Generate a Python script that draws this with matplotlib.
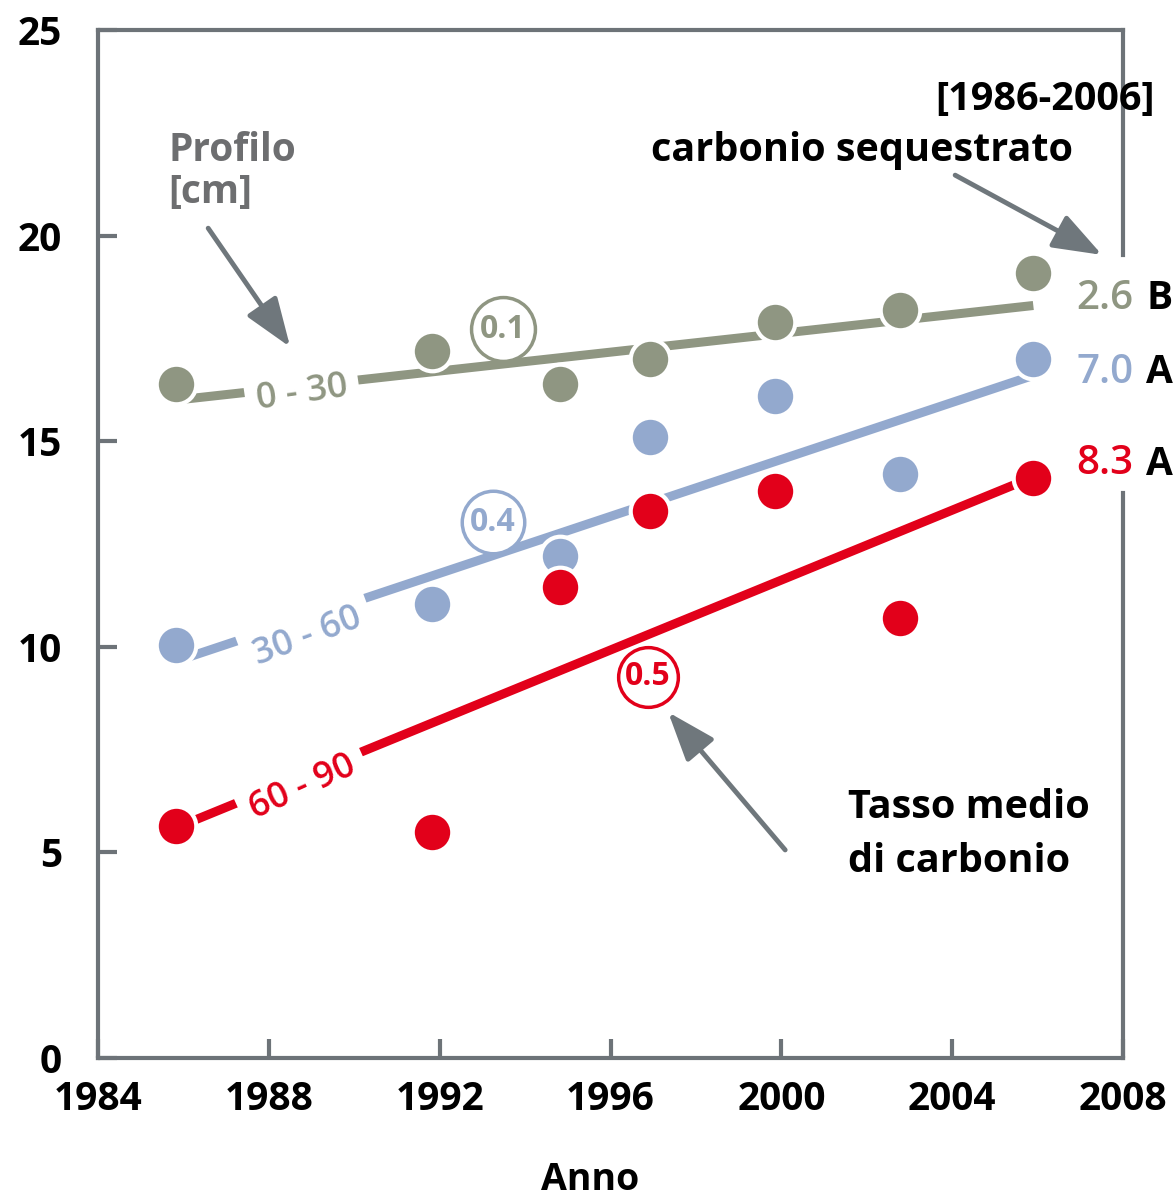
import numpy as np
import matplotlib.pyplot as plt

plt.rcParams['font.family'] = ['Open Sans', 'DejaVu Sans']

# --- data ---
years = [1985.83, 1991.82, 1994.82, 1996.93, 1999.85, 2002.78, 2005.9]
c_0_30 = [16.4, 17.2, 16.4, 17.0, 17.9, 18.2, 19.1]
c_30_60 = [10.05, 11.05, 12.2, 15.1, 16.1, 14.2, 17.0]
c_60_90 = [5.65, 5.5, 11.45, 13.3, 13.8, 10.7, 14.1]

trend_x = [1985.83, 2005.9]
trend_0_30 = [16.0, 18.3]
trend_30_60 = [9.65, 16.6]
trend_60_90 = [5.6, 14.13]

profiles = ['0-30', '30-60', '60-90']
rates = ['0.1', '0.4', '0.5']
sequestered = ['2.6', '7.0', '8.3']
groups = ['B', 'A', 'A']

x_ticks = [1984, 1988, 1992, 1996, 2000, 2004, 2008]
y_ticks = [0, 5, 10, 15, 20, 25]

GRAY = '#8f9682'
BLUE = '#93a9ce'
RED = '#e2001a'
SPINE = '#6d7378'
ARROW = '#6f777c'
TXT_GRAY = '#6d6e70'

fig = plt.figure(figsize=(11.76, 12), dpi=100)
ax = fig.add_axes([98 / 1176, 1 - 1058 / 1200, (1123 - 98) / 1176, (1058 - 30) / 1200])
ax.set_xlim(1984, 2008)
ax.set_ylim(0, 25)

for side in ['left', 'bottom', 'top']:
    ax.spines[side].set_color(SPINE)
    ax.spines[side].set_linewidth(3)
ax.spines['right'].set_visible(False)
# right frame is broken where the end labels sit
ax.axvline(2008, ymin=0, ymax=0.55, color=SPINE, lw=3, clip_on=False)
ax.axvline(2008, ymin=0.781, ymax=1, color=SPINE, lw=3, clip_on=False)

ax.set_xticks(x_ticks)
ax.set_yticks(y_ticks)
ax.tick_params(direction='in', length=14, width=3, color=SPINE, labelsize=28,
               labelcolor='black')
ax.tick_params(axis='y', pad=26)
ax.tick_params(axis='x', pad=16)
for lbl in ax.get_xticklabels() + ax.get_yticklabels():
    lbl.set_fontweight('bold')

fig.text(590 / 1176, 1 - 1180 / 1200, 'Anno', ha='center', va='center',
         fontsize=27, fontweight='bold')

series = [(c_0_30, trend_0_30, GRAY), (c_30_60, trend_30_60, BLUE), (c_60_90, trend_60_90, RED)]

# trend lines
for vals, tr, col in series:
    ax.plot(trend_x, tr, color=col, lw=6.5, solid_capstyle='butt', zorder=2)

# profile labels along the lines
label_pos = [(1988.78, 16.17), (1988.9, 10.24), (1988.8, 6.57)]
for (vals, tr, col), name, (lx, ly) in zip(series, profiles, label_pos):
    p = ax.transData.transform([[trend_x[0], tr[0]], [trend_x[1], tr[1]]])
    ang = np.degrees(np.arctan2(p[1, 1] - p[0, 1], p[1, 0] - p[0, 0])) + 2
    ax.text(lx, ly, name.replace('-', ' - '), color=col, fontsize=26, fontweight='semibold',
            rotation=ang, rotation_mode='anchor', ha='center', va='center', zorder=3,
            bbox=dict(facecolor='white', edgecolor='none', pad=8))

# data points
for vals, tr, col in series:
    ax.plot(years, vals, 'o', ms=28.5, mfc=col, mec='white', mew=3, ls='none', zorder=4)

# rate circles
rate_pos = [(1993.48, 17.72, 46), (1993.25, 13.03, 45), (1996.88, 9.27, 43)]
for (vals, tr, col), r, (cx, cy, ms) in zip(series, rates, rate_pos):
    ax.plot([cx], [cy], 'o', ms=ms, mfc='white', mec=col, mew=2.5, zorder=5)
    ax.text(cx, cy, r, color=col, fontsize=23, fontweight='bold',
            ha='center', va='center', zorder=6)

# end labels
end_y = [18.46, 16.66, 14.44]
for (vals, tr, col), s, g, ey in zip(series, sequestered, groups, end_y):
    ax.text(2008.24, ey, s, color=col, fontsize=29, fontweight='semibold',
            ha='right', va='center', zorder=6, clip_on=False)
    ax.text(2008.54, ey, g, color='black', fontsize=28, fontweight='bold',
            ha='left', va='center', zorder=6, clip_on=False)

# annotations
ax.text(1985.64, 22.55, 'Profilo\n[cm]', color=TXT_GRAY, fontsize=28, fontweight='bold',
        ha='left', va='top', linespacing=1.1)
ax.text(2008.75, 23.3, '[1986-2006]', color='black', fontsize=28.5, fontweight='bold',
        ha='right', va='center', clip_on=False)
ax.text(2006.83, 22.08, 'carbonio sequestrato', color='black', fontsize=28.5,
        fontweight='bold', ha='right', va='center')
ax.text(2001.56, 6.08, 'Tasso medio', color='black', fontsize=28.5, fontweight='bold',
        ha='left', va='center')
ax.text(2001.56, 4.77, 'di carbonio', color='black', fontsize=28.5, fontweight='bold',
        ha='left', va='center')

arrows = [((1986.58, 20.18), (1988.50, 17.29)),
          ((2004.07, 21.47), (2007.51, 19.53)),
          ((2000.09, 5.06), (1997.35, 8.41))]
for tail, head in arrows:
    ax.annotate('', xy=head, xytext=tail,
                arrowprops=dict(arrowstyle='-|>,head_length=1.5,head_width=0.55',
                                mutation_scale=20, lw=3.5, color=ARROW,
                                shrinkA=0, shrinkB=0),
                zorder=6)

fig.savefig('out.png', dpi=100, facecolor='white')
